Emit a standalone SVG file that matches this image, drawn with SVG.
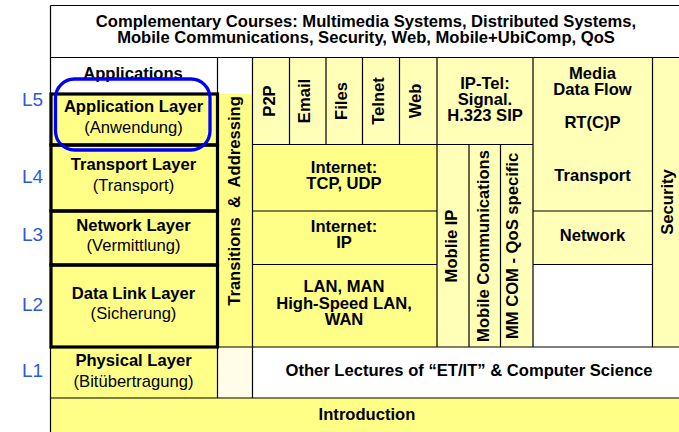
<svg xmlns="http://www.w3.org/2000/svg" width="679" height="432" viewBox="0 0 679 432">
<style>
text{font-family:"Liberation Sans",Arial,sans-serif;font-size:16.6px;fill:#000}
.b{font-weight:bold}
.m{text-anchor:middle}
.L{font-size:19px;fill:#2b5bd7}
.y1{fill:#ffff88}
.y2{fill:#ffffb8}
.w{fill:#ffffff}
.cr{fill:#fffde8}
.thin{stroke:#000;stroke-width:1.2;fill:none}
.thick{stroke:#000;stroke-width:3.2;fill:none}
</style>
<rect x="0" y="0" width="679" height="432" fill="#fff"/>
<g id="fills">
<rect class="w" x="50" y="5" width="629" height="52"/>
<rect class="w" x="50" y="57" width="202" height="37"/>
<rect class="y1" x="217" y="94" width="35" height="253"/>
<rect class="cr" x="217" y="347" width="35" height="51"/>
<rect class="y2" x="252" y="57" width="281" height="87"/>
<rect class="y1" x="252" y="144" width="185" height="203"/>
<rect class="y2" x="437" y="144" width="96" height="203"/>
<rect class="y2" x="533" y="57" width="119" height="207"/>
<rect class="w" x="533" y="264" width="119" height="83"/>
<rect class="y2" x="652" y="57" width="27" height="290"/>
<rect class="w" x="252" y="347" width="427" height="51"/>
<rect class="y1" x="50" y="94" width="167" height="304"/>
<rect class="y1" x="50" y="398" width="629" height="34"/>
</g>
<g id="connectors">
<path class="thin" d="M50.5,5.5H679 M50.5,5.5V432 M50,57.5H679 M217.5,57V398 M252.5,57V398 M289.5,57V144 M326,57V144 M362.5,57V144 M399.5,57V144 M437,57V347 M252,144.5H533 M469,144V347 M500.5,144V347 M533,57V347 M652.5,57V347 M252,211H437 M533,211H652 M252,264.5H437 M533,264.5H652 M50,347H679 M50,398H679"/>
</g>
<g id="complementary">
<text class="b m" x="366" y="27">Complementary Courses: Multimedia Systems, Distributed Systems,</text>
<text class="b m" x="366" y="43">Mobile Communications, Security, Web, Mobile+UbiComp, QoS</text>
</g>
<g id="applications"><text class="b m" x="133" y="79">Applications</text></g>
<g id="l5">
<rect class="thick" x="51" y="94" width="166.5" height="51"/>
<text class="b m" x="133.5" y="112">Application Layer</text>
<text class="m" x="133.5" y="133">(Anwendung)</text>
</g>
<g id="l4">
<rect class="thick" x="51" y="145" width="166.5" height="66"/>
<text class="b m" x="133.5" y="170">Transport Layer</text>
<text class="m" x="133.5" y="191">(Transport)</text>
</g>
<g id="l3">
<rect class="thick" x="51" y="211" width="166.5" height="54"/>
<text class="b m" x="133.5" y="231">Network Layer</text>
<text class="m" x="133.5" y="251">(Vermittlung)</text>
</g>
<g id="l2">
<rect class="thick" x="51" y="265" width="166.5" height="82"/>
<text class="b m" x="133.5" y="299">Data Link Layer</text>
<text class="m" x="133.5" y="319">(Sicherung)</text>
</g>
<g id="l1">
<text class="b m" x="133.5" y="366">Physical Layer</text>
<text class="m" x="133.5" y="387">(Bitübertragung)</text>
</g>
<g id="highlight"><rect x="55.5" y="79" width="154.5" height="71" rx="19" fill="none" stroke="#0000ff" stroke-width="3.3"/></g>
<g id="layer-labels">
<text class="L" x="22" y="106">L5</text>
<text class="L" x="22" y="183">L4</text>
<text class="L" x="22" y="241">L3</text>
<text class="L" x="22" y="311">L2</text>
<text class="L" x="22" y="377">L1</text>
</g>
<g id="transitions"><text class="b m" transform="translate(239.5,201) rotate(-90)" style="white-space:pre" xml:space="preserve">Transitions  &amp;  Addressing</text></g>
<g id="p2p"><text class="b m" transform="translate(274.5,101) rotate(-90)">P2P</text></g>
<g id="email"><text class="b m" transform="translate(310,101) rotate(-90)">Email</text></g>
<g id="files"><text class="b m" transform="translate(346.5,101) rotate(-90)">Files</text></g>
<g id="telnet"><text class="b m" transform="translate(384,101) rotate(-90)">Telnet</text></g>
<g id="web"><text class="b m" transform="translate(420.5,101) rotate(-90)">Web</text></g>
<g id="iptel">
<text class="b m" x="485" y="89">IP-Tel:</text>
<text class="b m" x="485" y="105">Signal.</text>
<text class="b m" x="485" y="121">H.323 SIP</text>
</g>
<g id="media">
<text class="b m" x="592.5" y="79">Media</text>
<text class="b m" x="592.5" y="95">Data Flow</text>
<text class="b m" x="592.5" y="128">RT(C)P</text>
<text class="b m" x="592.5" y="181">Transport</text>
</g>
<g id="network"><text class="b m" x="592.5" y="241">Network</text></g>
<g id="security"><text class="b m" transform="translate(673,202) rotate(-90)">Security</text></g>
<g id="tcpudp">
<text class="b m" x="344" y="173">Internet:</text>
<text class="b m" x="344" y="189">TCP, UDP</text>
</g>
<g id="ip">
<text class="b m" x="344" y="232">Internet:</text>
<text class="b m" x="344" y="248">IP</text>
</g>
<g id="lan">
<text class="b m" x="344" y="292">LAN, MAN</text>
<text class="b m" x="344" y="309">High-Speed LAN,</text>
<text class="b m" x="344" y="325">WAN</text>
</g>
<g id="mobileip"><text class="b m" transform="translate(456.5,246) rotate(-90)">Moblie IP</text></g>
<g id="mobilecomm"><text class="b m" transform="translate(489,246) rotate(-90)">Mobile Communications</text></g>
<g id="mmcom"><text class="b m" transform="translate(518,246) rotate(-90)">MM COM - QoS specific</text></g>
<g id="other"><text class="b m" x="469" y="376">Other Lectures of “ET/IT” &amp; Computer Science</text></g>
<g id="intro"><text class="b m" x="367" y="420">Introduction</text></g>
</svg>
